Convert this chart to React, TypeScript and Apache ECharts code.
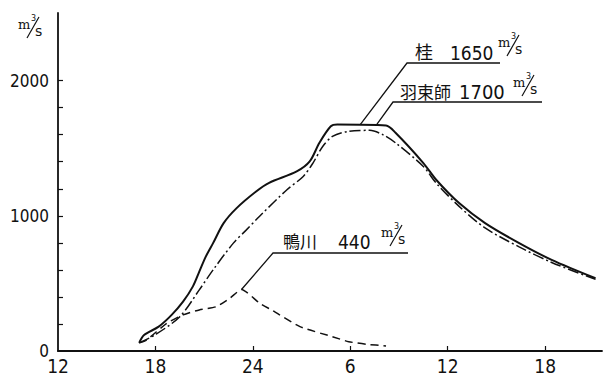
import React, { useEffect, useRef } from "react";
import * as echarts from "echarts";

// Hours counted from 12:00 of the first day
const katsuraHours = [5.0, 5.3, 6.2, 7.0, 7.7, 8.3, 8.7, 9.1, 9.55, 10.2, 11.0, 12.2, 13.0, 14.7, 15.5, 16.1, 16.8, 17.2, 20.2, 20.8, 22.5, 23.3, 24.7, 26.3, 28.4, 30.4, 33.1];
const katsuraFlow = [60, 118, 180, 267, 365, 476, 587, 698, 798, 946, 1057, 1180, 1244, 1328, 1402, 1540, 1662, 1675, 1668, 1612, 1390, 1265, 1094, 946, 798, 674, 538];

const hazukashiHours = [5.0, 5.96, 7.5, 8.7, 9.55, 10.8, 11.6, 12.4, 14.1, 15.1, 15.7, 16.3, 16.9, 17.9, 19.2, 20.0, 20.8, 22.5, 23.3, 24.7, 26.3, 28.4, 30.4, 33.1];
const hazukashiFlow = [60, 118, 254, 452, 600, 798, 896, 995, 1193, 1291, 1390, 1513, 1587, 1625, 1632, 1600, 1538, 1365, 1240, 1070, 910, 770, 655, 530];

const kamoHours = [5.0, 5.45, 6.7, 7.7, 8.7, 9.75, 10.6, 11.3, 12.4, 13.2, 14.9, 16.9, 17.9, 19.0, 20.2];
const kamoFlow = [60, 81, 205, 267, 304, 328, 392, 455, 355, 300, 180, 106, 69, 50, 37];

const xLabelValues = [0, 6, 12, 18, 24, 30];
const xTickLabels = ["12", "18", "24", "6", "12", "18"];
const xTickValues = [6, 12, 18, 24, 30];
const yLabelValues = [0, 1000, 2000];
const yTickValues = [200, 400, 600, 800, 1000, 1200, 1400, 1600, 1800, 2000];

// annotation anchors [hour, flow], station names and peak values
const annoAnchors = [
  [18.6, 1672],
  [19.6, 1670],
  [11.3, 455],
];
const annoNames = ["桂", "羽束師", "鴨川"];
const annoPeaks = ["1650", "1700", "440"];

const INK = "#111";
const NARROW = "'DejaVu Sans Condensed', 'DejaVu Sans', sans-serif";
const CJK = "Noto Sans CJK JP";

function unitGroup(x: number, y: number) {
  return {
    type: "group",
    x,
    y,
    children: [
      { type: "text", x: 0, y: 4, style: { text: "m", fontSize: 13, fontFamily: "DejaVu Serif", fill: INK } },
      { type: "text", x: 13, y: 0, style: { text: "3", fontSize: 8, fontFamily: "DejaVu Sans", fill: INK } },
      { type: "line", shape: { x1: 9, y1: 24, x2: 21, y2: 3 }, style: { stroke: INK, lineWidth: 1.2 } },
      { type: "text", x: 17, y: 10, style: { text: "s", fontSize: 14, fontFamily: "DejaVu Sans", fill: INK } },
    ],
  };
}

// texts placed with their bottom on the given line
function label(nameX: number, numX: number, baseY: number, name: string, num: string, nameSize: number, numSize: number) {
  return [
    { type: "text", x: nameX, y: baseY + 2, style: { text: name, fontSize: nameSize, fontFamily: CJK, fill: INK, verticalAlign: "bottom" } },
    { type: "text", x: numX, y: baseY + 4, style: { text: num, fontSize: numSize, fontFamily: NARROW, fill: INK, verticalAlign: "bottom" } },
  ];
}

export default function App() {
  const ref = useRef<HTMLDivElement>(null);
  useEffect(() => {
    if (!ref.current) return;
    const chart = echarts.init(ref.current, null, { renderer: "svg" });
    const mk = (hs: number[], vs: number[]) => hs.map((h, i) => [h, vs[i]]);
    chart.setOption({
      animation: false,
      backgroundColor: "#fff",
      grid: { left: 58, right: 6, top: 13, bottom: 28 },
      xAxis: {
        type: "value",
        min: 0,
        max: 33.5,
        axisLine: { lineStyle: { color: INK, width: 1.8 } },
        axisTick: { inside: true, length: 5, customValues: xTickValues, lineStyle: { color: INK, width: 1.2 } },
        axisLabel: {
          customValues: xLabelValues,
          formatter: (v: number) => {
            const i = xLabelValues.indexOf(v);
            return i >= 0 ? xTickLabels[i] : "";
          },
          color: INK,
          fontSize: 19,
          fontFamily: NARROW,
          margin: 5,
        },
        splitLine: { show: false },
      },
      yAxis: {
        type: "value",
        min: 0,
        max: 2500,
        axisLine: { show: true, lineStyle: { color: INK, width: 1.8 } },
        axisTick: { inside: true, length: 5, customValues: yTickValues, lineStyle: { color: INK, width: 1.2 } },
        axisLabel: {
          customValues: yLabelValues,
          formatter: (v: number) => String(v),
          color: INK,
          fontSize: 17,
          fontFamily: NARROW,
          margin: 9,
        },
        splitLine: { show: false },
      },
      series: [
        {
          name: "桂",
          type: "line",
          data: mk(katsuraHours, katsuraFlow),
          smooth: 0.3,
          symbol: "none",
          lineStyle: { color: INK, width: 2 },
        },
        {
          name: "羽束師",
          type: "line",
          data: mk(hazukashiHours, hazukashiFlow),
          smooth: 0.3,
          symbol: "none",
          lineStyle: { color: INK, width: 1.5, type: [11, 3, 2, 3] },
        },
        {
          name: "鴨川",
          type: "line",
          data: mk(kamoHours, kamoFlow),
          smooth: 0.2,
          symbol: "none",
          lineStyle: { color: INK, width: 1.5, type: [8, 5] },
        },
      ],
    });

    const a = annoAnchors.map((p) => chart.convertToPixel({ gridIndex: 0 }, p) as number[]);
    const lead = { stroke: INK, lineWidth: 1.3, fill: null };
    chart.setOption({
      graphic: [
        unitGroup(18, 14),
        // 桂
        { type: "polyline", shape: { points: [a[0], [407, 63], [500, 63]] }, style: lead },
        ...label(415, 450, 58, annoNames[0], annoPeaks[0], 18, 19),
        unitGroup(498, 32),
        // 羽束師
        { type: "polyline", shape: { points: [a[1], [393, 102], [542, 102]] }, style: lead },
        ...label(400, 459, 98, annoNames[1], annoPeaks[1], 17, 20),
        unitGroup(513, 72),
        // 鴨川
        { type: "polyline", shape: { points: [a[2], [273, 253], [408, 253]] }, style: lead },
        ...label(283, 338, 247, annoNames[2], annoPeaks[2], 17, 19),
        unitGroup(381, 222),
      ],
    });
    return () => chart.dispose();
  }, []);
  return <div ref={ref} style={{ width: 608, height: 379, position: "absolute", left: 0, top: 0 }} />;
}
